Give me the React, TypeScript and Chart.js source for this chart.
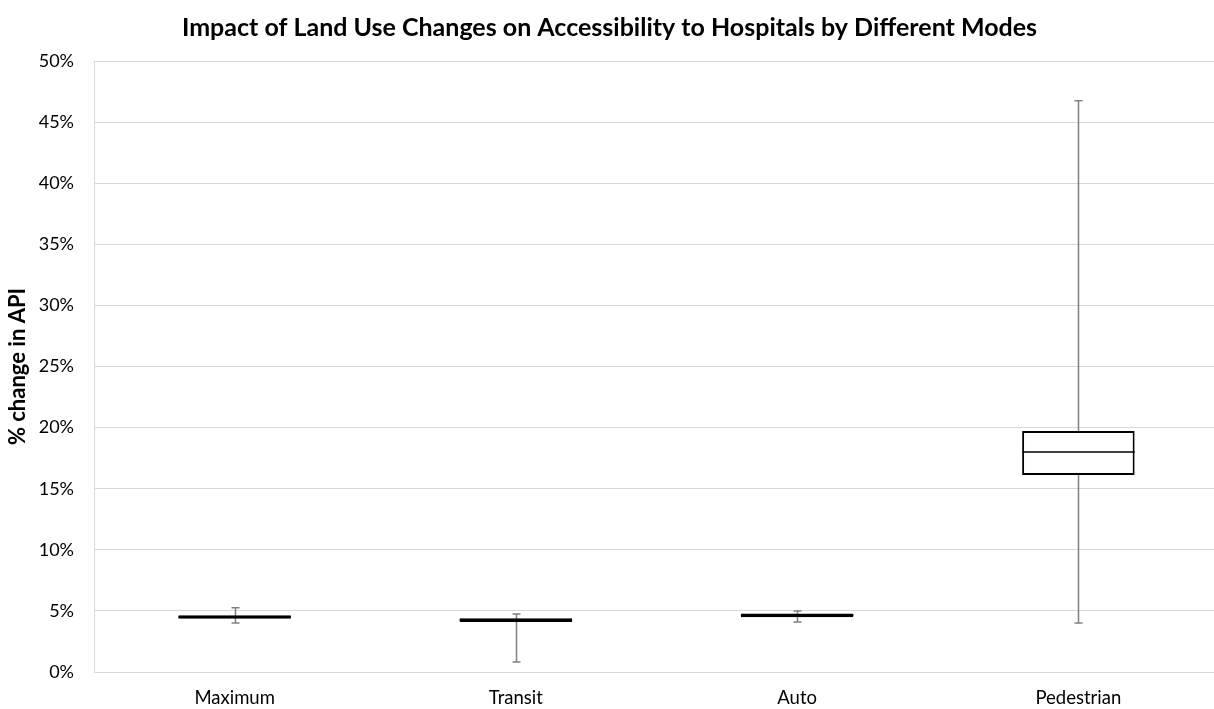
import React, { useEffect, useRef } from "react";
import { Chart, registerables } from "chart.js";

Chart.register(...registerables);

const categories = ["Maximum", "Transit", "Auto", "Pedestrian"];
const minValues = [4.01, 0.82, 4.09, 4.0];
const q1Values = [4.35, 4.1, 4.49, 16.12];
const medianValues = [4.5, 4.25, 4.64, 18.0];
const q3Values = [4.65, 4.4, 4.79, 19.72];
const maxValues = [5.26, 4.75, 4.99, 46.75];
const yTicks = [0, 5, 10, 15, 20, 25, 30, 35, 40, 45, 50];

const FONT = "Lato, 'Open Sans', sans-serif";

const boxPlugin = {
  id: "boxWhiskers",
  beforeDatasetsDraw(chart: any) {
    const ctx = chart.ctx;
    const y = chart.scales.y;
    const meta = chart.getDatasetMeta(0);
    ctx.save();
    ctx.strokeStyle = "#808080";
    ctx.lineWidth = 1.5;
    meta.data.forEach((bar: any, i: number) => {
      const x = Math.round(bar.x) + 0.5;
      const yMin = y.getPixelForValue(minValues[i]);
      const yMax = y.getPixelForValue(maxValues[i]);
      ctx.beginPath();
      ctx.moveTo(x, yMin);
      ctx.lineTo(x, yMax);
      ctx.moveTo(x - 4, yMin);
      ctx.lineTo(x + 4, yMin);
      ctx.moveTo(x - 4, yMax);
      ctx.lineTo(x + 4, yMax);
      ctx.stroke();
    });
    ctx.restore();
  },
  afterDatasetsDraw(chart: any) {
    const ctx = chart.ctx;
    const y = chart.scales.y;
    const meta = chart.getDatasetMeta(0);
    ctx.save();
    ctx.strokeStyle = "#000000";
    ctx.lineWidth = 1.5;
    meta.data.forEach((bar: any, i: number) => {
      const half = bar.width / 2;
      const ym = y.getPixelForValue(medianValues[i]);
      ctx.beginPath();
      ctx.moveTo(bar.x - half, ym);
      ctx.lineTo(bar.x + half, ym);
      ctx.stroke();
    });
    ctx.restore();
  },
};

export default function App() {
  const ref = useRef<HTMLCanvasElement | null>(null);
  useEffect(() => {
    if (!ref.current) return;
    const chart = new Chart(ref.current, {
      type: "bar",
      data: {
        labels: categories,
        datasets: [
          {
            label: "Box",
            data: categories.map((_, i) => [q1Values[i], q3Values[i]]) as any,
            backgroundColor: "#ffffff",
            borderColor: "#000000",
            borderWidth: 2,
            borderSkipped: false,
            barPercentage: 0.4,
            categoryPercentage: 1,
          },
        ],
      },
      options: {
        responsive: false,
        animation: false,
        layout: { padding: { left: 0, right: 0, top: 0, bottom: 0 } },
        plugins: {
          legend: { display: false },
          tooltip: { enabled: false },
          title: {
            display: true,
            text: "Impact of Land Use Changes on Accessibility to Hospitals by Different Modes",
            color: "#000000",
            font: { family: FONT, size: 25, weight: "bold" },
            padding: { top: 13, bottom: 18 },
          },
        },
        scales: {
          x: {
            afterFit(scale: any) {
              scale.height = 37;
            },
            grid: { display: false, drawTicks: false },
            border: { display: false },
            ticks: {
              color: "#000000",
              font: { family: FONT, size: 18.5 },
              padding: 15,
            },
          },
          y: {
            min: 0,
            max: 50,
            afterBuildTicks(scale: any) {
              scale.ticks = yTicks.map((v) => ({ value: v }));
            },
            afterFit(scale: any) {
              scale.width = 94;
            },
            grid: { color: "#d9d9d9", lineWidth: 1, drawTicks: false },
            border: { display: true, color: "#d9d9d9", width: 1 },
            ticks: {
              color: "#000000",
              font: { family: FONT, size: 18 },
              padding: 20,
              callback: (v: any) => v + "%",
            },
            title: {
              display: true,
              text: "% change in API",
              color: "#000000",
              font: { family: FONT, size: 22, weight: "bold" },
              padding: { top: 5, bottom: 0 },
            },
          },
        },
      },
      plugins: [boxPlugin],
    });
    return () => chart.destroy();
  }, []);
  return (
    <div style={{ position: "fixed", left: 0, top: 0, width: 1214, height: 709, overflow: "hidden", background: "#fff" }}>
      <canvas ref={ref} width={1219} height={709} style={{ display: "block" }} />
    </div>
  );
}
